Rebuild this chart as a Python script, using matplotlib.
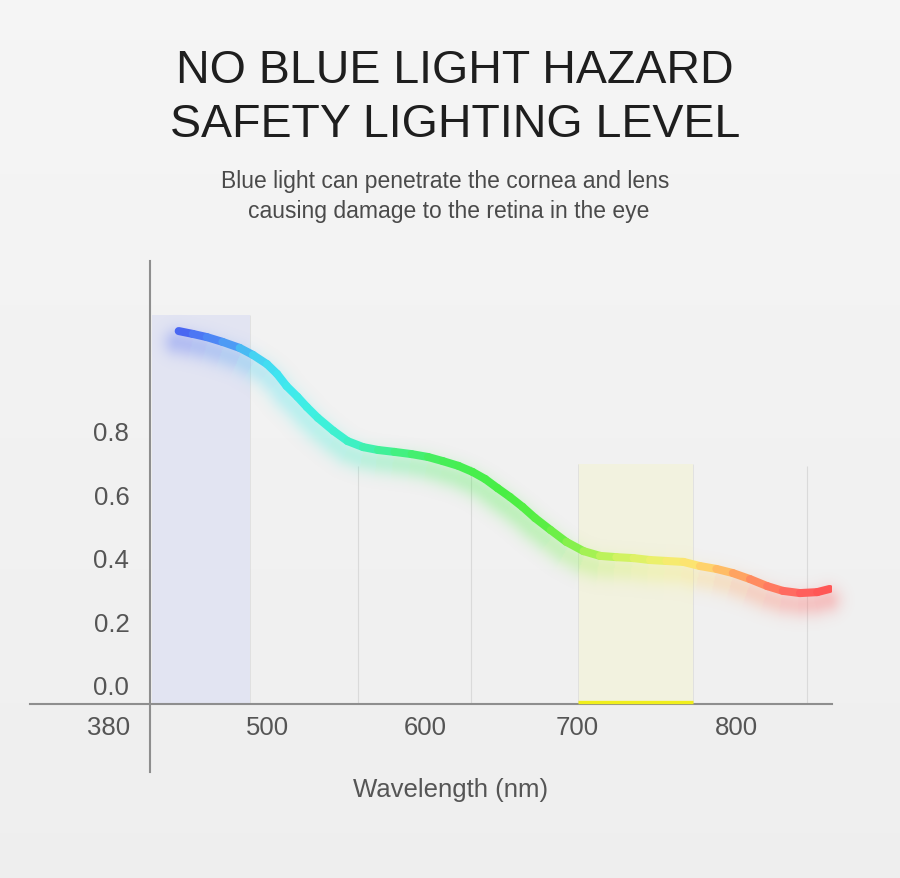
import numpy as np
import matplotlib
matplotlib.use("Agg")
import matplotlib.pyplot as plt
import matplotlib.transforms as mtransforms
from matplotlib.collections import LineCollection
from matplotlib.colors import LinearSegmentedColormap
from matplotlib.patches import Rectangle

plt.rcParams['font.family'] = ['Liberation Sans', 'DejaVu Sans']

# ---------------- data ----------------
title_lines = ["NO BLUE LIGHT HAZARD", "SAFETY LIGHTING LEVEL"]
subtitle_lines = ["Blue light can penetrate the cornea and lens",
                  "causing damage to the retina in the eye"]
x_label = "Wavelength (nm)"
x_tick_labels = ["380", "500", "600", "700", "800"]
y_tick_values = [0.0, 0.2, 0.4, 0.6, 0.8]
y_tick_labels = ["0.0", "0.2", "0.4", "0.6", "0.8"]

wavelength = [443, 452, 461, 471, 482, 490.5, 499.5, 506, 512, 519, 525, 532,
              542, 551, 561, 570.5, 581, 592, 602.5, 612, 622, 631, 639, 647,
              655, 663, 671, 681, 691, 702, 712.5, 723, 734, 744.5, 755, 766,
              776.5, 787, 797.5, 808.5, 819.5, 829.5, 840.5, 851.5, 859.5]
value = [1.125, 1.116, 1.106, 1.091, 1.072, 1.050, 1.021, 0.990, 0.952, 0.918,
         0.886, 0.852, 0.811, 0.779, 0.760, 0.751, 0.745, 0.738, 0.729, 0.716,
         0.701, 0.682, 0.660, 0.631, 0.603, 0.572, 0.537, 0.499, 0.462, 0.433,
         0.418, 0.414, 0.411, 0.405, 0.402, 0.399, 0.386, 0.377, 0.364, 0.345,
         0.323, 0.308, 0.301, 0.304, 0.314]

blue_band = [426, 488.6, 1.175]      # start, end, top
yellow_band = [698.5, 772.0, 0.707]  # start, end, top
grid_wavelengths = [558, 630, 845]

# ---------------- layout ----------------
W, H = 900, 879
fig = plt.figure(figsize=(W / 100, H / 100), dpi=100)

bg = fig.add_axes([0, 0, 1, 1], zorder=-10)
grad = np.linspace(0.962, 0.936, 256)[:, None]
bg.imshow(np.dstack([grad, grad, grad]), aspect='auto', extent=[0, 1, 0, 1])
bg.axis('off')

ax = fig.add_axes([30 / W, (H - 773) / H, 802 / W, 511 / H])
ax.patch.set_alpha(0)
XLIM = (347.86, 860.97)
YLIM = (-0.2616, 1.3453)
ax.set_xlim(*XLIM)
ax.set_ylim(*YLIM)
axis_y0 = -0.048
axis_x0 = 424.7

for s in ['top', 'right']:
    ax.spines[s].set_visible(False)
ax.spines['left'].set_position(('data', axis_x0))
ax.spines['bottom'].set_position(('data', axis_y0))
for s in ['left', 'bottom']:
    ax.spines[s].set_color('#8e8e8e')
    ax.spines[s].set_linewidth(1.5)
    ax.spines[s].set_zorder(5)

ax.set_xticks([398, 500, 601, 698, 800])
ax.set_xticklabels(x_tick_labels)
ax.set_yticks(y_tick_values)
ax.set_yticklabels(y_tick_labels)
ax.tick_params(axis='x', length=0, pad=8, labelsize=18.5, labelcolor='#555555')
ax.tick_params(axis='y', length=0, pad=15, labelsize=18.5, labelcolor='#555555')
up = mtransforms.ScaledTranslation(0, 4 / 100, fig.dpi_scale_trans)
for lab in ax.get_yticklabels():
    lab.set_transform(lab.get_transform() + up)

ax.set_xlabel(x_label, fontsize=18.5, color='#555555', va='baseline')
ax.xaxis.set_label_coords((451 - 30) / 802, (773 - 797) / 511)

# bands
ax.add_patch(Rectangle((blue_band[0], axis_y0), blue_band[1] - blue_band[0],
                       blue_band[2] - axis_y0, facecolor='#e2e4f2',
                       edgecolor='none', zorder=1))
ax.add_patch(Rectangle((yellow_band[0], axis_y0), yellow_band[1] - yellow_band[0],
                       yellow_band[2] - axis_y0, facecolor='#f2f2df',
                       edgecolor='none', zorder=1))
ax.plot([yellow_band[0], yellow_band[1]], [axis_y0 + 0.008, axis_y0 + 0.008],
        color='#f0ee1c', lw=2.4, solid_capstyle='butt', zorder=6)

ax.vlines(grid_wavelengths, axis_y0, 0.70, color='#dadada', lw=0.8, zorder=1)
ax.vlines([blue_band[1], yellow_band[0], yellow_band[1]], axis_y0,
          [blue_band[2], yellow_band[2], yellow_band[2]],
          color='#dedede', lw=0.6, zorder=1)

# gradient curve
cmap = LinearSegmentedColormap.from_list('spec', [
    (0.00, '#4a62f2'),
    (0.07, '#4e90f6'),
    (0.12, '#46d2f2'),
    (0.16, '#40e6f0'),
    (0.21, '#3ef0e0'),
    (0.27, '#3ef0c4'),
    (0.33, '#42f08c'),
    (0.40, '#46ee5a'),
    (0.50, '#48ee44'),
    (0.57, '#5cee44'),
    (0.62, '#94f04e'),
    (0.67, '#c8f25e'),
    (0.75, '#f2f06e'),
    (0.80, '#ffe070'),
    (0.85, '#ffb262'),
    (0.90, '#ff8660'),
    (0.95, '#ff6460'),
    (1.00, '#ff5454'),
])
pts = np.column_stack([wavelength, value])
segs = np.stack([pts[:-1], pts[1:]], axis=1)
mids = (pts[:-1, 0] + pts[1:, 0]) / 2
norm = plt.Normalize(min(wavelength), max(wavelength))
cols = cmap(norm(mids))

# soft coloured shadow (rendered as an image below the curve)
gx0, gx1 = 420.0, 880.0
gy0, gy1 = 0.12, 1.25
nx, ny = 620, 460
gxs = np.linspace(gx0, gx1, nx)
gys = np.linspace(gy0, gy1, ny)
GX, GY = np.meshgrid(gxs, gys)
gpix = ax.transData.transform(np.column_stack([GX.ravel(), GY.ravel()]))
ppix = ax.transData.transform(pts) + np.array([-2.0, -11.0])
best = np.full(gpix.shape[0], np.inf)
bidx = np.zeros(gpix.shape[0], dtype=int)
for i in range(len(ppix) - 1):
    a, b = ppix[i], ppix[i + 1]
    ab = b - a
    t = np.clip(((gpix - a) @ ab) / (ab @ ab), 0, 1)
    proj = a + t[:, None] * ab
    d = np.hypot(*(gpix - proj).T)
    m = d < best
    best[m] = d[m]
    bidx[m] = i
sigma = 9.5
alpha = 0.30 * np.exp(-0.5 * (best / sigma) ** 2)
rgba = cols[bidx].copy()
rgba[:, 3] = alpha
shadow = ax.imshow(rgba.reshape(ny, nx, 4), extent=[gx0, gx1, gy0, gy1],
                   origin='lower', aspect='auto', interpolation='bilinear',
                   zorder=3)
shadow.set_clip_on(False)
ax.set_xlim(*XLIM)
ax.set_ylim(*YLIM)

line = LineCollection(segs, colors=cols, linewidths=5.8, capstyle='round',
                      joinstyle='round', zorder=4)
ax.add_collection(line)

# titles
for i, t in enumerate(title_lines):
    fig.text(455 / W, 1 - (83 + 54 * i) / H, t, ha='center', va='baseline',
             fontsize=33.5, color='#1e1e1e')
sub_pos = [(445, 188), (449, 218)]
for (px, py), t in zip(sub_pos, subtitle_lines):
    fig.text(px / W, 1 - py / H, t, ha='center', va='baseline',
             fontsize=16.5, color='#4a4a4a')

fig.savefig('out.png', dpi=100)
